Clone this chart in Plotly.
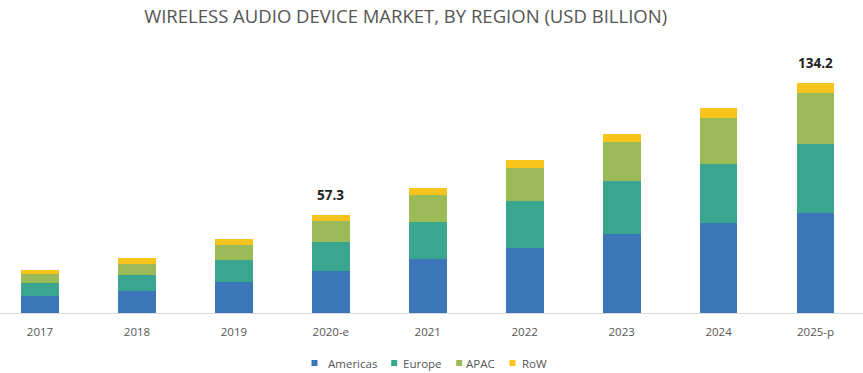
import plotly.graph_objects as go

years = ["2017", "2018", "2019", "2020-e", "2021", "2022", "2023", "2024", "2025-p"]
americas = [10.1, 12.8, 18.1, 24.5, 31.5, 37.9, 46.0, 52.4, 58.5]
europe = [7.6, 9.3, 12.6, 16.6, 21.6, 27.2, 30.7, 34.7, 39.8]
apac = [4.9, 6.4, 9.1, 12.3, 15.5, 19.5, 23.0, 26.5, 30.1]
row = [2.5, 3.3, 3.1, 3.9, 4.3, 4.3, 4.8, 5.8, 5.8]
labelled = {"2020-e": "57.3", "2025-p": "134.2"}

series = [
    ("Americas", americas, "#3a76b8"),
    ("Europe", europe, "#3aa68f"),
    ("APAC", apac, "#9bbb59"),
    ("RoW", row, "#f8c31c"),
]

W, H = 863, 373
PLOT_TOP, PLOT_BOTTOM = 50, 313

fig = go.Figure()
for name, vals, col in series:
    fig.add_trace(go.Bar(x=years, y=vals, name=name, showlegend=False,
                         marker=dict(color=col, line=dict(width=0))))

totals = [a + b + c + d for a, b, c, d in zip(americas, europe, apac, row)]
for yr, tot in zip(years, totals):
    if yr in labelled:
        fig.add_annotation(x=yr, y=tot, text="<b>" + labelled[yr] + "</b>", showarrow=False,
                           yanchor="bottom", yshift=9,
                           font=dict(family="Open Sans", size=13.5, color="#222"))

# manual legend (compact, like the reference)
leg_marker_px = [314.5, 394.2, 459.2, 512.5]
leg_text_px = [325.5, 401.0, 464.0, 519.5]
leg_y_px = 363
ly = (PLOT_BOTTOM - leg_y_px) / (PLOT_BOTTOM - PLOT_TOP)
half = 3
for (name, _, col), mx, tx in zip(series, leg_marker_px, leg_text_px):
    fig.add_shape(type="rect", xref="paper", yref="paper",
                  x0=(mx - half) / W, x1=(mx + half) / W,
                  y0=ly - half / (PLOT_BOTTOM - PLOT_TOP), y1=ly + half / (PLOT_BOTTOM - PLOT_TOP),
                  fillcolor=col, line=dict(width=0))
    fig.add_annotation(x=tx / W, y=ly, xref="paper", yref="paper", text=name,
                       showarrow=False, xanchor="left", yanchor="middle",
                       font=dict(family="Open Sans", size=11.5, color="#555"))

fig.update_layout(
    width=W, height=H,
    barmode="stack", bargap=0.61,
    paper_bgcolor="white", plot_bgcolor="white",
    margin=dict(l=0, r=0, t=PLOT_TOP, b=H - PLOT_BOTTOM, autoexpand=False),
    title=dict(text="WIRELESS AUDIO DEVICE MARKET, BY REGION (USD BILLION)",
               x=0.47, xanchor="center", xref="paper", y=1 - 17 / H, yref="container",
               yanchor="middle",
               font=dict(family="Open Sans", size=18.5, color="#555")),
    showlegend=False,
    xaxis=dict(range=[-0.413, 8.49], showline=True, linecolor="#d9d9d9", linewidth=1,
               automargin=False, ticklabelstandoff=8,
               ticks="", tickfont=dict(family="Open Sans", size=11.5, color="#555"), showgrid=False),
    yaxis=dict(range=[0, 153.3], visible=False, showgrid=False),
)
fig.write_html("out.html", config={"displayModeBar": False},
               post_script="document.body.style.margin='0';document.body.style.overflow='hidden';")
